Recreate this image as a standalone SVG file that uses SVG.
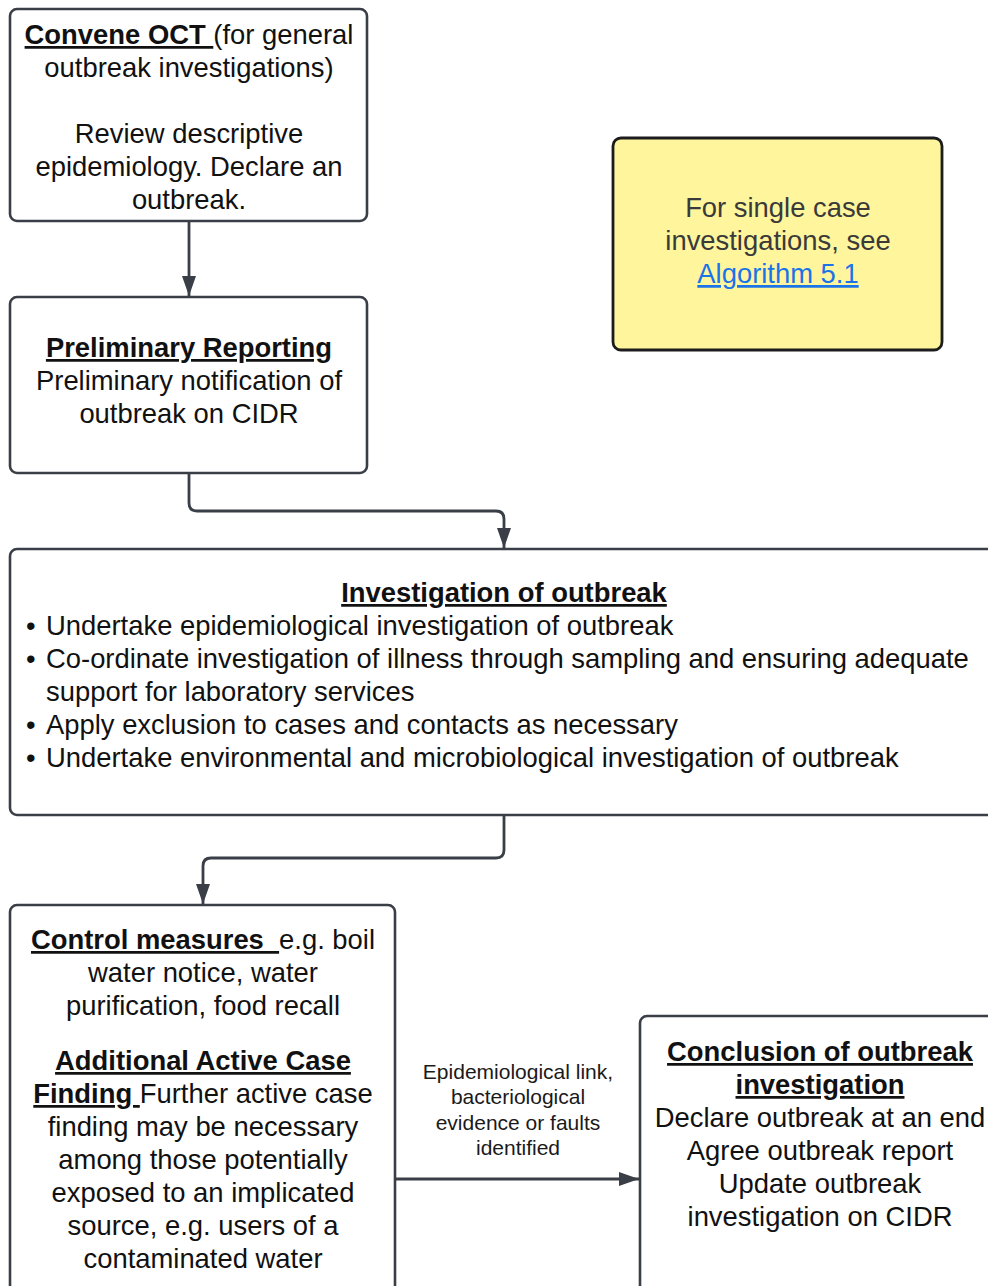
<svg xmlns="http://www.w3.org/2000/svg" width="988" height="1286" viewBox="0 0 988 1286">
<style>
.box{fill:#ffffff;stroke:#3a3f47;stroke-width:2.6}
.note{fill:#fef59d;stroke:#1c1c1c;stroke-width:2.8}
.t{font-family:"Liberation Sans",Arial,sans-serif;font-size:27.4px;fill:#111111;white-space:pre}
.c{text-anchor:middle}
.b{font-weight:bold;text-decoration:underline}
.lbl{font-family:"Liberation Sans",Arial,sans-serif;font-size:21px;fill:#1a1a1a;text-anchor:middle}
.conn{fill:none;stroke:#3a3f47;stroke-width:2.8}
.gray{fill:#3a3a3a}
.link{fill:#1a73e8;text-decoration:underline}
</style>
<defs>
<marker id="arr" viewBox="0 0 20 14" refX="20" refY="7" markerWidth="20" markerHeight="14" markerUnits="userSpaceOnUse" orient="auto">
<path d="M0,0 L20,7 L0,14 Z" fill="#3a3f47"/>
</marker>
</defs>
<rect width="988" height="1286" fill="#ffffff"/>

<g id="connectors">
<path class="conn" d="M189,222 L189,296" marker-end="url(#arr)"/>
<path class="conn" d="M189,474 L189,503 Q189,511 197,511 L496,511 Q504,511 504,519 L504,548" marker-end="url(#arr)"/>
<path class="conn" d="M504,816 L504,850 Q504,858 496,858 L211,858 Q203,858 203,866 L203,904" marker-end="url(#arr)"/>
<path class="conn" d="M396,1179 L639,1179" marker-end="url(#arr)"/>
<g id="edge-label">
<text class="lbl" x="518" y="1079">Epidemiological link,</text>
<text class="lbl" x="518" y="1104">bacteriological</text>
<text class="lbl" x="518" y="1130">evidence or faults</text>
<text class="lbl" x="518" y="1155">identified</text>
</g>
</g>

<g id="convene">
<rect class="box" x="10" y="9" width="357" height="212" rx="7"/>
<text class="t c" x="189" y="44"><tspan class="b">Convene OCT </tspan>(for general</text>
<text class="t c" x="189" y="77">outbreak investigations)</text>
<text class="t c" x="189" y="143">Review descriptive</text>
<text class="t c" x="189" y="176">epidemiology. Declare an</text>
<text class="t c" x="189" y="209">outbreak.</text>
</g>

<g id="preliminary">
<rect class="box" x="10" y="297" width="357" height="176" rx="7"/>
<text class="t c" x="189" y="357"><tspan class="b">Preliminary Reporting</tspan></text>
<text class="t c" x="189" y="390">Preliminary notification of</text>
<text class="t c" x="189" y="423">outbreak on CIDR</text>
</g>

<g id="single-case">
<rect class="note" x="613" y="138" width="329" height="212" rx="8"/>
<text class="t c gray" x="778" y="217">For single case</text>
<text class="t c gray" x="778" y="250">investigations, see</text>
<text class="t c link" x="778" y="283">Algorithm 5.1</text>
</g>

<g id="investigation">
<rect class="box" x="10" y="549" width="1000" height="266" rx="7"/>
<text class="t c" x="504" y="602"><tspan class="b">Investigation of outbreak</tspan></text>
<text class="t" x="26" y="635">•</text>
<text class="t" x="46" y="635">Undertake epidemiological investigation of outbreak</text>
<text class="t" x="26" y="668">•</text>
<text class="t" x="46" y="668">Co-ordinate investigation of illness through sampling and ensuring adequate</text>
<text class="t" x="46" y="701">support for laboratory services</text>
<text class="t" x="26" y="734">•</text>
<text class="t" x="46" y="734">Apply exclusion to cases and contacts as necessary</text>
<text class="t" x="26" y="767">•</text>
<text class="t" x="46" y="767">Undertake environmental and microbiological investigation of outbreak</text>
</g>

<g id="control">
<rect class="box" x="10" y="905" width="385" height="400" rx="7"/>
<text class="t c" x="203" y="949"><tspan class="b">Control measures  </tspan>e.g. boil</text>
<text class="t c" x="203" y="982">water notice, water</text>
<text class="t c" x="203" y="1015">purification, food recall</text>
<text class="t c" x="203" y="1070"><tspan class="b">Additional Active Case</tspan></text>
<text class="t c" x="203" y="1103"><tspan class="b">Finding </tspan>Further active case</text>
<text class="t c" x="203" y="1136">finding may be necessary</text>
<text class="t c" x="203" y="1169">among those potentially</text>
<text class="t c" x="203" y="1202">exposed to an implicated</text>
<text class="t c" x="203" y="1235">source, e.g. users of a</text>
<text class="t c" x="203" y="1268">contaminated water</text>
</g>

<g id="conclusion">
<rect class="box" x="640" y="1016" width="370" height="300" rx="7"/>
<text class="t c" x="820" y="1061"><tspan class="b">Conclusion of outbreak</tspan></text>
<text class="t c" x="820" y="1094"><tspan class="b">investigation</tspan></text>
<text class="t c" x="820" y="1127">Declare outbreak at an end</text>
<text class="t c" x="820" y="1160">Agree outbreak report</text>
<text class="t c" x="820" y="1193">Update outbreak</text>
<text class="t c" x="820" y="1226">investigation on CIDR</text>
</g>
</svg>
